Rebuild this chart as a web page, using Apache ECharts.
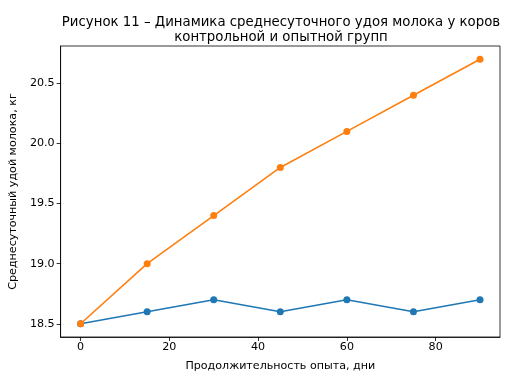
<!DOCTYPE html>
<html><head><meta charset="utf-8">
<script src="https://cdn.jsdelivr.net/npm/echarts@6/dist/echarts.min.js"></script>
<style>html,body{margin:0;padding:0;background:#fff}#c{width:512px;height:384px}</style>
</head><body><div id="c"></div>
<script>
const days = [0, 15, 30, 45, 60, 75, 90];
const control = [18.5, 18.6, 18.7, 18.6, 18.7, 18.6, 18.7];
const experimental = [18.5, 19.0, 19.4, 19.8, 20.1, 20.4, 20.7];
const xTicks = [0, 20, 40, 60, 80];
const yTicks = [18.5, 19.0, 19.5, 20.0, 20.5];
const titleText = 'Рисунок 11 – Динамика среднесуточного удоя молока у коров\nконтрольной и опытной групп';
const xName = 'Продолжительность опыта, дни';
const yName = 'Среднесуточный удой молока, кг';

const font = 'DejaVu Sans';
const chart = echarts.init(document.getElementById('c'), null, {renderer:'canvas'});
chart.setOption({
  animation: false,
  backgroundColor: '#fff',
  title: {
    text: titleText, left: 276, top: 10, textAlign: 'center',
    textStyle: {fontFamily: font, fontSize: 13.3, fontWeight: 'normal', color: '#000', lineHeight: 15}
  },
  grid: {left: 60, right: 12, top: 46, bottom: 47, show: true, borderColor: '#000', borderWidth: 0.8, containLabel: false},
  xAxis: {
    type: 'value', min: -4.5, max: 94.5,
    name: xName, nameLocation: 'middle', nameGap: 24,
    nameTextStyle: {fontFamily: font, fontSize: 11.1, color: '#000'},
    axisLine: {show: true, onZero: false, lineStyle: {color: '#000', width: 0.8}},
    axisTick: {show: true, customValues: xTicks, length: 4, lineStyle: {color: '#000', width: 0.8}},
    axisLabel: {customValues: xTicks, fontFamily: font, fontSize: 11.1, color: '#000', margin: 5},
    splitLine: {show: false}
  },
  yAxis: {
    type: 'value', min: 18.39, max: 20.81,
    name: yName, nameLocation: 'middle', nameGap: 41,
    nameTextStyle: {fontFamily: font, fontSize: 11.1, color: '#000'},
    axisLine: {show: true, onZero: false, lineStyle: {color: '#000', width: 0.8}},
    axisTick: {show: true, customValues: yTicks, length: 4, lineStyle: {color: '#000', width: 0.8}},
    axisLabel: {customValues: yTicks, fontFamily: font, fontSize: 11.1, color: '#000', margin: 6,
      formatter: v => v.toFixed(1)},
    splitLine: {show: false}
  },
  series: [
    {type: 'line', data: days.map((d,i)=>[d, control[i]]), color: '#1f77b4',
     symbol: 'circle', symbolSize: 7, lineStyle: {width: 1.6}, itemStyle: {color: '#1f77b4'}, z: 2},
    {type: 'line', data: days.map((d,i)=>[d, experimental[i]]), color: '#ff7f0e',
     symbol: 'circle', symbolSize: 7, lineStyle: {width: 1.6}, itemStyle: {color: '#ff7f0e'}, z: 3}
  ]
});
</script></body></html>
